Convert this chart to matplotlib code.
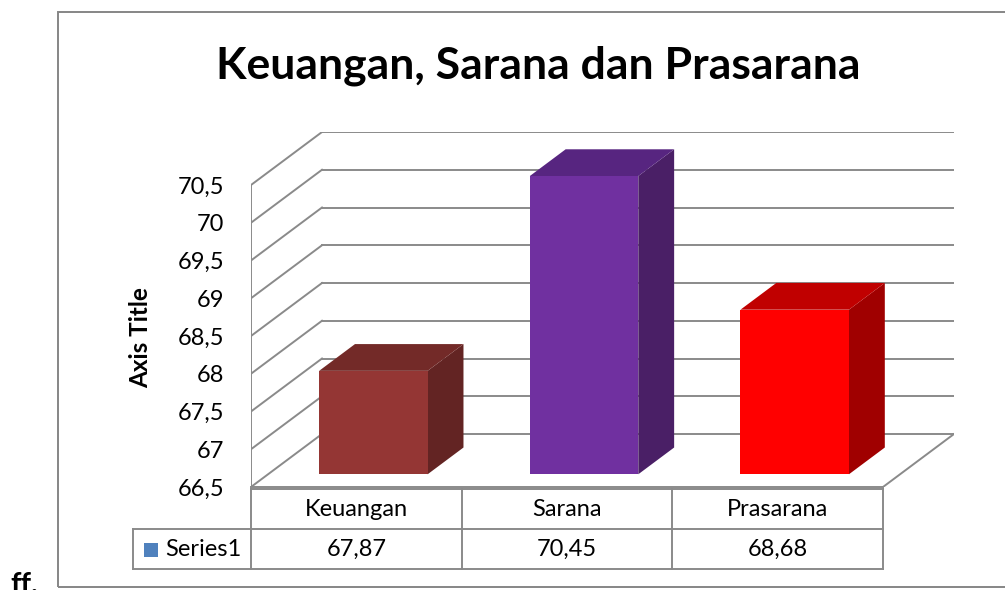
import matplotlib
matplotlib.use('Agg')
import matplotlib.pyplot as plt
import matplotlib.transforms as mtransforms
from matplotlib.patches import Polygon, Rectangle

plt.rcParams['font.family'] = ['Lato', 'DejaVu Sans']

categories = ['Keuangan', 'Sarana', 'Prasarana']
values = [67.87, 70.45, 68.68]
value_labels = ['67,87', '70,45', '68,68']
series_name = 'Series1'
yticks = [66.5, 67, 67.5, 68, 68.5, 69, 69.5, 70, 70.5]
ytick_labels = ['66,5', '67', '67,5', '68', '68,5', '69', '69,5', '70', '70,5']

front_colors = ['#943634', '#7030A0', '#FF0000']
top_colors = ['#732A28', '#572580', '#C00000']
side_colors = ['#632423', '#4A1F66', '#A00000']

W, H = 1005, 590
GRID = '#8a8a8a'

# front plane in pixels (left, right, bottom value, top value)
FX0, FX1 = 251, 883
FY0, FY1 = 487, 185
YMIN, YMAX = 66.5, 70.5
XPU = (FX1 - FX0) / len(categories)
VPU = (FY0 - FY1) / (YMAX - YMIN)
# oblique depth offset, converted to data units
DX = 71 / XPU
DY = 53 / VPU
BW = 0.515
D0, D1 = 0.24, 0.745

fig = plt.figure(figsize=(W / 100, H / 100), dpi=100)
ax_w = (len(categories) + DX) * XPU
ax_h = (YMAX - YMIN + DY) * VPU
ax = fig.add_axes([FX0 / W, 1 - FY0 / H, ax_w / W, ax_h / H])
ax.set_xlim(0, len(categories) + DX)
ax.set_ylim(YMIN, YMAX + DY)
for s in ax.spines.values():
    s.set_visible(False)
ax.set_xticks([])
ax.set_yticks(yticks)
ax.set_yticklabels(ytick_labels)
ax.tick_params(axis='y', length=0, pad=19, labelsize=17)

n = len(categories)
# back wall gridlines and side wall diagonals
for v in yticks:
    ax.plot([DX, n + DX], [v + DY, v + DY], color=GRID, lw=1.4, zorder=1)
    ax.plot([0, DX], [v, v + DY], color=GRID, lw=1.4, zorder=1)
ax.plot([0, 0], [YMIN, YMAX], color=GRID, lw=1.4, zorder=1)
ax.plot([0, n], [YMIN, YMIN], color=GRID, lw=1.4, zorder=1, clip_on=False)
ax.plot([n, n + DX], [YMIN, YMIN + DY], color=GRID, lw=1.4, zorder=1)


def pt(x, v, d):
    return (x + d * DX, v + d * DY)


for i, v in enumerate(values):
    c = i + 0.5
    x0, x1 = c - BW / 2, c + BW / 2
    front = [pt(x0, YMIN, D0), pt(x1, YMIN, D0), pt(x1, v, D0), pt(x0, v, D0)]
    top = [pt(x0, v, D0), pt(x1, v, D0), pt(x1, v, D1), pt(x0, v, D1)]
    side = [pt(x1, YMIN, D0), pt(x1, YMIN, D1), pt(x1, v, D1), pt(x1, v, D0)]
    ax.add_patch(Polygon(side, closed=True, fc=side_colors[i], ec='none', zorder=3))
    ax.add_patch(Polygon(top, closed=True, fc=top_colors[i], ec='none', zorder=3))
    ax.add_patch(Polygon(front, closed=True, fc=front_colors[i], ec='none', zorder=4))

# data table below the plot (x in data units, y in figure fraction)
tr = mtransforms.blended_transform_factory(ax.transData, fig.transFigure)


def fy(p):
    return 1 - p / H


ROW0, ROW1, ROW2 = 489, 529, 569
KEY_LEFT = (133 - FX0) / XPU
kw = dict(color=GRID, lw=1.4, transform=tr, clip_on=False, zorder=2)
ax.plot([0, n], [fy(ROW0), fy(ROW0)], **kw)
ax.plot([KEY_LEFT, n], [fy(ROW1), fy(ROW1)], **kw)
ax.plot([KEY_LEFT, n], [fy(ROW2), fy(ROW2)], **kw)
for k in range(n + 1):
    ax.plot([k, k], [fy(ROW0), fy(ROW2)], **kw)
ax.plot([KEY_LEFT, KEY_LEFT], [fy(ROW1), fy(ROW2)], **kw)

for i, (cat, lab) in enumerate(zip(categories, value_labels)):
    ax.text(i + 0.5, fy(510), cat, transform=tr, ha='center', va='center', fontsize=17)
    ax.text(i + 0.5, fy(549), lab, transform=tr, ha='center', va='center', fontsize=17)

ax.add_patch(Rectangle((144 / W, fy(557)), 14 / W, 14 / H, transform=fig.transFigure,
                       fc='#4F81BD', ec='none', clip_on=False))
fig.text(165 / W, fy(549), series_name, ha='left', va='center', fontsize=17)

# title, axis title, chart border
fig.text(538 / W, fy(66), 'Keuangan, Sarana dan Prasarana', ha='center', va='center',
         fontsize=32, fontweight='bold')
fig.text(141 / W, fy(338), 'Axis Title', ha='center', va='center', rotation=90,
         fontsize=17.5, fontweight='bold')
fig.add_artist(Rectangle((58 / W, fy(587)), 1000 / W, (587 - 12) / H, transform=fig.transFigure,
                         fill=False, ec='#868686', lw=1.4))
fig.text(10 / W, fy(593), 'ff.', ha='left', va='baseline', fontsize=21, fontweight='bold')

fig.savefig('out.png', dpi=100)
